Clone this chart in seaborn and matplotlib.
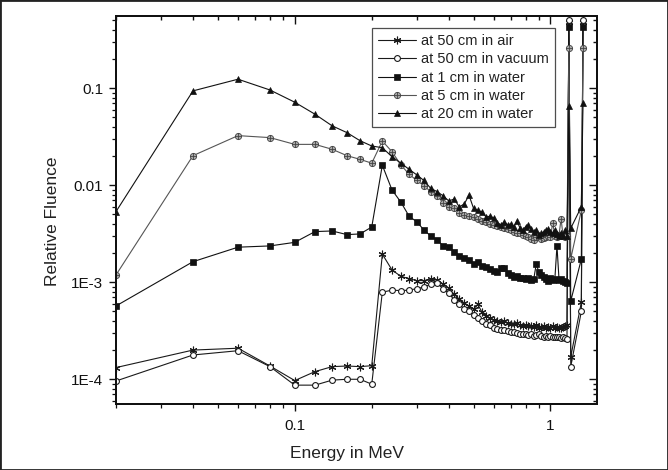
import matplotlib
matplotlib.use("Agg")
import matplotlib.pyplot as plt
import seaborn as sns
import numpy as np
import pandas as pd
from matplotlib.path import Path
from matplotlib.patches import Rectangle
from matplotlib.ticker import FixedLocator, FixedFormatter, LogLocator, NullFormatter

# ---------------- data ----------------
energy = [0.02, 0.04, 0.06, 0.08, 0.10, 0.12, 0.14, 0.16, 0.18, 0.20,
          0.22, 0.24, 0.26, 0.28, 0.30, 0.32, 0.34, 0.36, 0.38, 0.40,
          0.42, 0.44, 0.46, 0.48, 0.50, 0.52, 0.54, 0.56, 0.58, 0.60,
          0.62, 0.64, 0.66, 0.68, 0.70, 0.72, 0.74, 0.76, 0.78, 0.80,
          0.82, 0.84, 0.86, 0.88, 0.90, 0.92, 0.94, 0.96, 0.98, 1.00,
          1.02, 1.04, 1.06, 1.08, 1.10, 1.12, 1.14, 1.16, 1.18, 1.20,
          1.32, 1.34]

air_50cm = [1.32e-4, 2.0e-4, 2.09e-4, 1.37e-4, 9.7e-5, 1.2e-4, 1.35e-4, 1.37e-4, 1.35e-4, 1.38e-4,
            1.95e-3, 1.34e-3, 1.15e-3, 1.09e-3, 1.04e-3, 1.04e-3, 1.08e-3, 1.06e-3, 9.6e-4, 8.7e-4,
            7.5e-4, 6.7e-4, 6.1e-4, 5.7e-4, 5.3e-4, 5.9e-4, 4.9e-4, 4.5e-4, 4.3e-4, 4.1e-4,
            4.0e-4, 3.9e-4, 3.95e-4, 3.8e-4, 3.75e-4, 3.7e-4, 3.8e-4, 3.6e-4, 3.55e-4, 3.65e-4,
            3.5e-4, 3.55e-4, 3.45e-4, 3.6e-4, 3.4e-4, 3.45e-4, 3.5e-4, 3.4e-4, 3.45e-4, 3.35e-4,
            3.5e-4, 3.4e-4, 3.45e-4, 3.35e-4, 3.4e-4, 3.45e-4, 3.5e-4, 3.6e-4, 0.48, 1.7e-4,
            6.2e-4, 0.48]

vacuum_50cm = [9.6e-5, 1.78e-4, 1.97e-4, 1.35e-4, 8.7e-5, 8.7e-5, 9.8e-5, 1.0e-4, 1.0e-4, 8.9e-5,
               7.9e-4, 8.3e-4, 8.2e-4, 8.3e-4, 8.6e-4, 8.9e-4, 9.6e-4, 9.8e-4, 8.6e-4, 7.7e-4,
               6.6e-4, 5.9e-4, 5.3e-4, 5.0e-4, 4.6e-4, 4.3e-4, 3.95e-4, 3.75e-4, 3.6e-4, 3.4e-4,
               3.3e-4, 3.25e-4, 3.2e-4, 3.15e-4, 3.1e-4, 3.05e-4, 3.0e-4, 2.95e-4, 2.9e-4, 2.95e-4,
               2.85e-4, 2.9e-4, 2.8e-4, 2.85e-4, 2.9e-4, 2.8e-4, 2.75e-4, 2.8e-4, 2.75e-4, 2.8e-4,
               2.7e-4, 2.75e-4, 2.7e-4, 2.75e-4, 2.65e-4, 2.7e-4, 2.65e-4, 2.6e-4, 0.50, 1.35e-4,
               5.0e-4, 0.50]

water_1cm = [5.7e-4, 1.63e-3, 2.3e-3, 2.37e-3, 2.58e-3, 3.33e-3, 3.38e-3, 3.1e-3, 3.15e-3, 3.71e-3,
             1.61e-2, 8.95e-3, 6.7e-3, 4.8e-3, 4.2e-3, 3.46e-3, 3.0e-3, 2.73e-3, 2.38e-3, 2.33e-3,
             2.07e-3, 1.88e-3, 1.78e-3, 1.70e-3, 1.55e-3, 1.62e-3, 1.47e-3, 1.43e-3, 1.37e-3, 1.30e-3,
             1.27e-3, 1.40e-3, 1.40e-3, 1.25e-3, 1.19e-3, 1.14e-3, 1.17e-3, 1.11e-3, 1.11e-3, 1.08e-3,
             1.11e-3, 1.06e-3, 1.08e-3, 1.55e-3, 1.27e-3, 1.19e-3, 1.14e-3, 1.08e-3, 1.03e-3, 1.11e-3,
             1.06e-3, 1.08e-3, 2.37e-3, 1.06e-3, 1.08e-3, 1.03e-3, 1.01e-3, 9.8e-4, 0.43, 6.4e-4,
             1.73e-3, 0.43]

water_5cm = [1.19e-3, 2.02e-2, 3.25e-2, 3.1e-2, 2.64e-2, 2.64e-2, 2.35e-2, 2.02e-2, 1.85e-2, 1.69e-2,
             2.86e-2, 2.22e-2, 1.62e-2, 1.30e-2, 1.12e-2, 9.9e-3, 8.6e-3, 7.8e-3, 6.6e-3, 6.0e-3,
             5.8e-3, 5.2e-3, 4.9e-3, 4.8e-3, 4.7e-3, 4.5e-3, 4.3e-3, 4.2e-3, 4.0e-3, 3.9e-3,
             3.8e-3, 3.7e-3, 3.6e-3, 3.5e-3, 3.45e-3, 3.3e-3, 3.25e-3, 3.2e-3, 3.1e-3, 3.0e-3,
             2.9e-3, 2.8e-3, 2.75e-3, 2.9e-3, 2.95e-3, 2.8e-3, 2.85e-3, 2.9e-3, 3.0e-3, 2.9e-3,
             4.1e-3, 3.0e-3, 2.9e-3, 3.1e-3, 4.5e-3, 3.0e-3, 2.9e-3, 3.0e-3, 0.26, 1.75e-3,
             5.5e-3, 0.26]

water_20cm = [5.35e-3, 9.4e-2, 0.124, 9.6e-2, 7.18e-2, 5.4e-2, 4.1e-2, 3.49e-2, 2.88e-2, 2.54e-2,
              2.44e-2, 1.97e-2, 1.69e-2, 1.46e-2, 1.28e-2, 1.12e-2, 9.3e-3, 8.6e-3, 7.8e-3, 6.9e-3,
              7.2e-3, 6.0e-3, 6.4e-3, 7.9e-3, 5.8e-3, 5.5e-3, 5.3e-3, 4.7e-3, 4.8e-3, 4.6e-3,
              4.1e-3, 3.9e-3, 4.2e-3, 3.9e-3, 4.0e-3, 3.75e-3, 4.3e-3, 3.6e-3, 3.46e-3, 3.75e-3,
              3.9e-3, 3.5e-3, 3.3e-3, 3.46e-3, 3.1e-3, 3.2e-3, 3.3e-3, 3.46e-3, 3.5e-3, 3.3e-3,
              3.2e-3, 3.46e-3, 3.15e-3, 3.0e-3, 3.2e-3, 2.97e-3, 3.46e-3, 3.0e-3, 0.065, 3.6e-3,
              6.0e-3, 0.070]

labels = ["at 50 cm in air", "at 50 cm in vacuum", "at 1 cm in water",
          "at 5 cm in water", "at 20 cm in water"]
x_tick_values = [0.1, 1]
x_tick_labels = ["0.1", "1"]
y_tick_values = [1e-4, 1e-3, 1e-2, 1e-1]
y_tick_labels = ["1E-4", "1E-3", "0.01", "0.1"]

# ---------------- style ----------------
sns.set_theme(style="white")
plt.rcParams["font.family"] = ["Liberation Sans", "DejaVu Sans"]
plt.rcParams["text.color"] = "#222222"
plt.rcParams["axes.labelcolor"] = "#222222"
plt.rcParams["xtick.color"] = "#111111"
plt.rcParams["ytick.color"] = "#111111"

# circle with a cross inside (for 5 cm)
circ = Path.unit_circle()
cross = Path([[-1, 0], [1, 0], [0, -1], [0, 1]],
             [Path.MOVETO, Path.LINETO, Path.MOVETO, Path.LINETO])
circle_plus = Path.make_compound_path(circ, cross)

fig = plt.figure(figsize=(6.68, 4.70), dpi=100)
ax = fig.add_axes([116 / 668, 1 - 404 / 470, (597 - 116) / 668, (404 - 16) / 470])

series = [
    (air_50cm, dict(marker=(6, 2, 0), markersize=5.5, color="#1a1a1a",
                    markeredgecolor="#1a1a1a", markeredgewidth=0.8)),
    (vacuum_50cm, dict(marker="o", markersize=4.2, color="#1a1a1a",
                       markerfacecolor="white", markeredgecolor="#1a1a1a", markeredgewidth=0.8)),
    (water_1cm, dict(marker="s", markersize=4.0, color="#111111",
                     markerfacecolor="#111111", markeredgecolor="#111111", markeredgewidth=0.5)),
    (water_5cm, dict(marker=circle_plus, markersize=4.5, color="#555555",
                     markerfacecolor="#aaaaaa", markeredgecolor="#444444", markeredgewidth=0.6)),
    (water_20cm, dict(marker="^", markersize=5.0, color="#111111",
                      markerfacecolor="#111111", markeredgecolor="#111111", markeredgewidth=0.5)),
]

for (vals, kw), lab in zip(series, labels):
    df = pd.DataFrame({"energy": energy, "fluence": vals})
    sns.lineplot(data=df, x="energy", y="fluence", ax=ax, estimator=None, sort=False,
                 linewidth=0.8, label=lab, **kw)

ax.set_xscale("log")
ax.set_yscale("log")
ax.set_xlim(0.02, 1.52)
ax.set_ylim(5.56e-5, 0.556)

ax.xaxis.set_major_locator(FixedLocator(x_tick_values))
ax.xaxis.set_major_formatter(FixedFormatter(x_tick_labels))
ax.xaxis.set_minor_locator(LogLocator(base=10, subs=np.arange(2, 10) / 1.0, numticks=20))
ax.xaxis.set_minor_formatter(NullFormatter())
ax.yaxis.set_major_locator(FixedLocator(y_tick_values))
ax.yaxis.set_major_formatter(FixedFormatter(y_tick_labels))
ax.yaxis.set_minor_locator(LogLocator(base=10, subs=np.arange(2, 10) / 1.0, numticks=20))
ax.yaxis.set_minor_formatter(NullFormatter())

ax.tick_params(which="major", direction="out", length=5, width=1.0, labelsize=11, pad=4)
ax.tick_params(which="minor", direction="out", length=3, width=0.9)
ax.tick_params(axis="x", which="major", pad=6)

for sp in ax.spines.values():
    sp.set_linewidth(1.3)
    sp.set_color("#111111")

# mirrored inward ticks on top and right
axt = ax.twiny()
axt.set_xscale("log")
axt.set_xlim(ax.get_xlim())
axt.xaxis.set_major_locator(FixedLocator(x_tick_values))
axt.xaxis.set_minor_locator(LogLocator(base=10, subs=np.arange(2, 10) / 1.0, numticks=20))
axt.tick_params(which="both", direction="in", labeltop=False, width=1.0)
axt.tick_params(which="major", length=6)
axt.tick_params(which="minor", length=3)
axr = ax.twinx()
axr.set_yscale("log")
axr.set_ylim(ax.get_ylim())
axr.yaxis.set_major_locator(FixedLocator(y_tick_values))
axr.yaxis.set_minor_locator(LogLocator(base=10, subs=np.arange(2, 10) / 1.0, numticks=20))
axr.tick_params(which="both", direction="in", labelright=False, width=1.0)
axr.tick_params(which="major", length=6)
axr.tick_params(which="minor", length=3)
for a in (axt, axr):
    for sp in a.spines.values():
        sp.set_linewidth(1.3)
        sp.set_color("#111111")

ax.set_xlabel("Energy in MeV", fontsize=12.5)
ax.set_ylabel("Relative Fluence", fontsize=12.5)
ax.xaxis.set_label_coords(0.48, -0.108)
ax.yaxis.set_label_coords(-0.116, 0.47)

leg = ax.legend(loc="upper right", bbox_to_anchor=(0.913, 0.969), borderaxespad=0,
                fontsize=10.5, frameon=True, fancybox=False, handlelength=2.6,
                handletextpad=0.4, labelspacing=0.3, borderpad=0.4)
leg.get_frame().set_edgecolor("#222222")
leg.get_frame().set_linewidth(0.9)
leg.set_zorder(10)

fig.patches.append(Rectangle((0, 0), 1, 1, transform=fig.transFigure, fill=False,
                             edgecolor="#222222", linewidth=2.0))

fig.savefig("out.png", dpi=100)
